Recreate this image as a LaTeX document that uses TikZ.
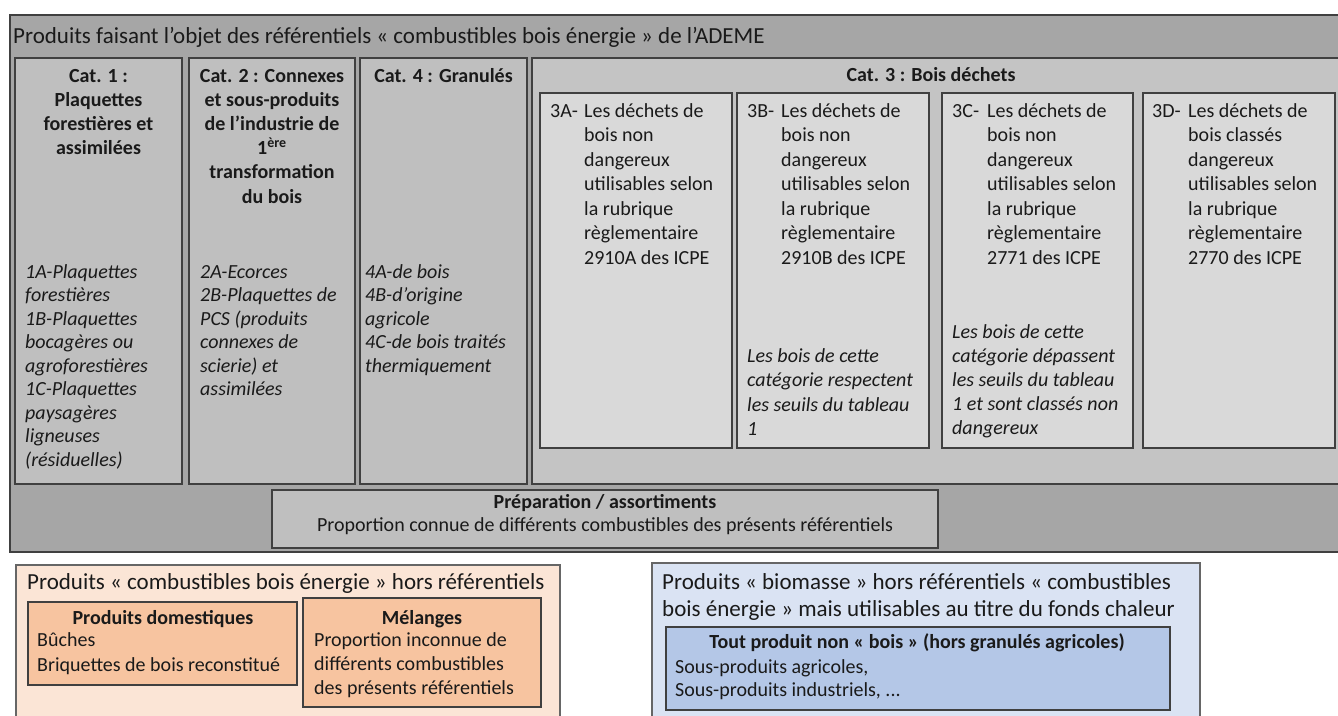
\documentclass[tikz,border=0pt]{standalone}
\usepackage{fontspec}
\setmainfont{Carlito}
\definecolor{outerfill}{HTML}{A6A6A6}
\definecolor{catfill}{HTML}{BFBFBF}
\definecolor{cattrois}{HTML}{C4C4C4}
\definecolor{subfill}{HTML}{D9D9D9}
\definecolor{bordc}{HTML}{404040}
\definecolor{txtc}{HTML}{1A1A1A}
\definecolor{orangebg}{HTML}{FBE5D6}
\definecolor{orangein}{HTML}{F7C4A0}
\definecolor{bluebg}{HTML}{DAE3F3}
\definecolor{bluein}{HTML}{B4C7E7}
\begin{document}
% note: for multi-line nodes, anchor=base sits on the LAST line's baseline
\begin{tikzpicture}[x=1pt,y=-1pt,
  panel/.style={draw=bordc, line width=2.5pt, inner sep=0pt, outer sep=0pt, anchor=north west},
  txt/.style={font=\fontsize{20}{24}\selectfont, text=txtc, inner sep=0pt, align=left, anchor=base west},
  itxt/.style={txt, font=\fontsize{20}{23.5}\selectfont\itshape},
  btxt/.style={txt, font=\fontsize{20}{24.2}\selectfont\bfseries, align=center, anchor=base},
  ttxt/.style={txt, font=\fontsize{23}{27}\selectfont},
  sbtxt/.style={txt, font=\fontsize{20}{24}\selectfont\bfseries, align=center, anchor=base},
  sub/.style={txt, font=\fontsize{20}{24.5}\selectfont}
]
\useasboundingbox (0,0) rectangle (1338,715);
% main grey panel
\node[panel, fill=outerfill, minimum width=1340pt, minimum height=537pt] (outer) at (10,15) {};
\node[ttxt] (title) at (13,43) {Produits faisant l’objet des référentiels « combustibles bois énergie » de l’ADEME};
% categories
\node[panel, fill=catfill, minimum width=167pt, minimum height=426pt] (cat1) at (15,58) {};
\node[panel, fill=catfill, minimum width=166pt, minimum height=426pt] (cat2) at (189,58) {};
\node[panel, fill=catfill, minimum width=167pt, minimum height=426pt] (cat4) at (360,58) {};
\node[panel, fill=cattrois, minimum width=818pt, minimum height=426pt] (cat3) at (532,58) {};
\node[btxt] (cat1t) at (98.5,154.6) {Cat. 1 :\\Plaquettes\\forestières et\\assimilées};
\node[btxt] (cat2t) at (272,203) {Cat. 2 : Connexes\\et sous-produits\\de l’industrie de\\1\textsuperscript{ère}\\transformation\\du bois};
\node[btxt] (cat4t) at (443.5,82) {Cat. 4 : Granulés};
\node[btxt] (cat3t) at (931,81) {Cat. 3 : Bois déchets};
\node[itxt] (cat1i) at (25,466) {1A-Plaquettes\\forestières\\1B-Plaquettes\\bocagères ou\\agroforestières\\1C-Plaquettes\\paysagères\\ligneuses\\(résiduelles)};
\node[itxt] (cat2i) at (200,395.5) {2A-Ecorces\\2B-Plaquettes de\\PCS (produits\\connexes de\\scierie) et\\assimilées};
\node[itxt] (cat4i) at (365,372) {4A-de bois\\4B-d’origine\\agricole\\4C-de bois traités\\thermiquement};
% sub-categories of cat 3
\node[panel, fill=subfill, minimum width=192pt, minimum height=355pt] (s3a) at (540,93) {};
\node[panel, fill=subfill, minimum width=192pt, minimum height=355pt] (s3b) at (737,93) {};
\node[panel, fill=subfill, minimum width=191pt, minimum height=355pt] (s3c) at (942,93) {};
\node[panel, fill=subfill, minimum width=192pt, minimum height=355pt] (s3d) at (1143,93) {};
\node[txt] (l3a) at (550,117) {3A-};
\node[sub] (t3a) at (584,264) {Les déchets de\\bois non\\dangereux\\utilisables selon\\la rubrique\\règlementaire\\2910A des ICPE};
\node[txt] (l3b) at (747,117) {3B-};
\node[sub] (t3b) at (781,264) {Les déchets de\\bois non\\dangereux\\utilisables selon\\la rubrique\\règlementaire\\2910B des ICPE};
\node[itxt, font=\fontsize{20}{24.5}\selectfont\itshape] (i3b) at (747,435.5) {Les bois de cette\\catégorie respectent\\les seuils du tableau\\1};
\node[txt] (l3c) at (952,117) {3C-};
\node[sub] (t3c) at (987,264) {Les déchets de\\bois non\\dangereux\\utilisables selon\\la rubrique\\règlementaire\\2771 des ICPE};
\node[itxt, font=\fontsize{20}{24}\selectfont\itshape] (i3c) at (952,434) {Les bois de cette\\catégorie dépassent\\les seuils du tableau\\1 et sont classés non\\dangereux};
\node[txt] (l3d) at (1152,117) {3D-};
\node[sub] (t3d) at (1188,264) {Les déchets de\\bois classés\\dangereux\\utilisables selon\\la rubrique\\règlementaire\\2770 des ICPE};
% preparation
\node[panel, fill=catfill, minimum width=666pt, minimum height=58pt] (prep) at (272,490) {};
\node[btxt] (prept) at (605,508) {Préparation / assortiments};
\node[txt, anchor=base] (prepl) at (605,531) {Proportion connue de différents combustibles des présents référentiels};
% orange panel
\node[panel, draw=bordc!80, line width=2pt, fill=orangebg, minimum width=544pt, minimum height=170pt] (orange) at (16,565) {};
\node[ttxt] (oranget) at (27,589) {Produits « combustibles bois énergie » hors référentiels};
\node[panel, fill=orangein, minimum width=269pt, minimum height=83pt] (pd) at (28,602) {};
\node[panel, fill=orangein, minimum width=238pt, minimum height=109pt] (mel) at (303,598) {};
\node[sbtxt] (pdt) at (163,624) {Produits domestiques};
\node[txt, font=\fontsize{20}{25}\selectfont] (pdl) at (37,671) {Bûches\\Briquettes de bois reconstitué};
\node[sbtxt] (melt) at (422,624) {Mélanges};
\node[txt] (mell) at (314,694) {Proportion inconnue de\\différents combustibles\\des présents référentiels};
% blue panel
\node[panel, draw=bordc!80, line width=2pt, fill=bluebg, minimum width=548pt, minimum height=170pt] (blue) at (652,563) {};
\node[ttxt] (bluet) at (662,616) {Produits « biomasse » hors référentiels « combustibles\\bois énergie » mais utilisables au titre du fonds chaleur};
\node[panel, fill=bluein, minimum width=504pt, minimum height=83pt] (bin) at (666,627) {};
\node[sbtxt] (bint) at (917,648) {Tout produit non « bois » (hors granulés agricoles)};
\node[txt, font=\fontsize{20}{23}\selectfont] (binl) at (675,696) {Sous-produits agricoles,\\Sous-produits industriels, ...};
\end{tikzpicture}
\end{document}
